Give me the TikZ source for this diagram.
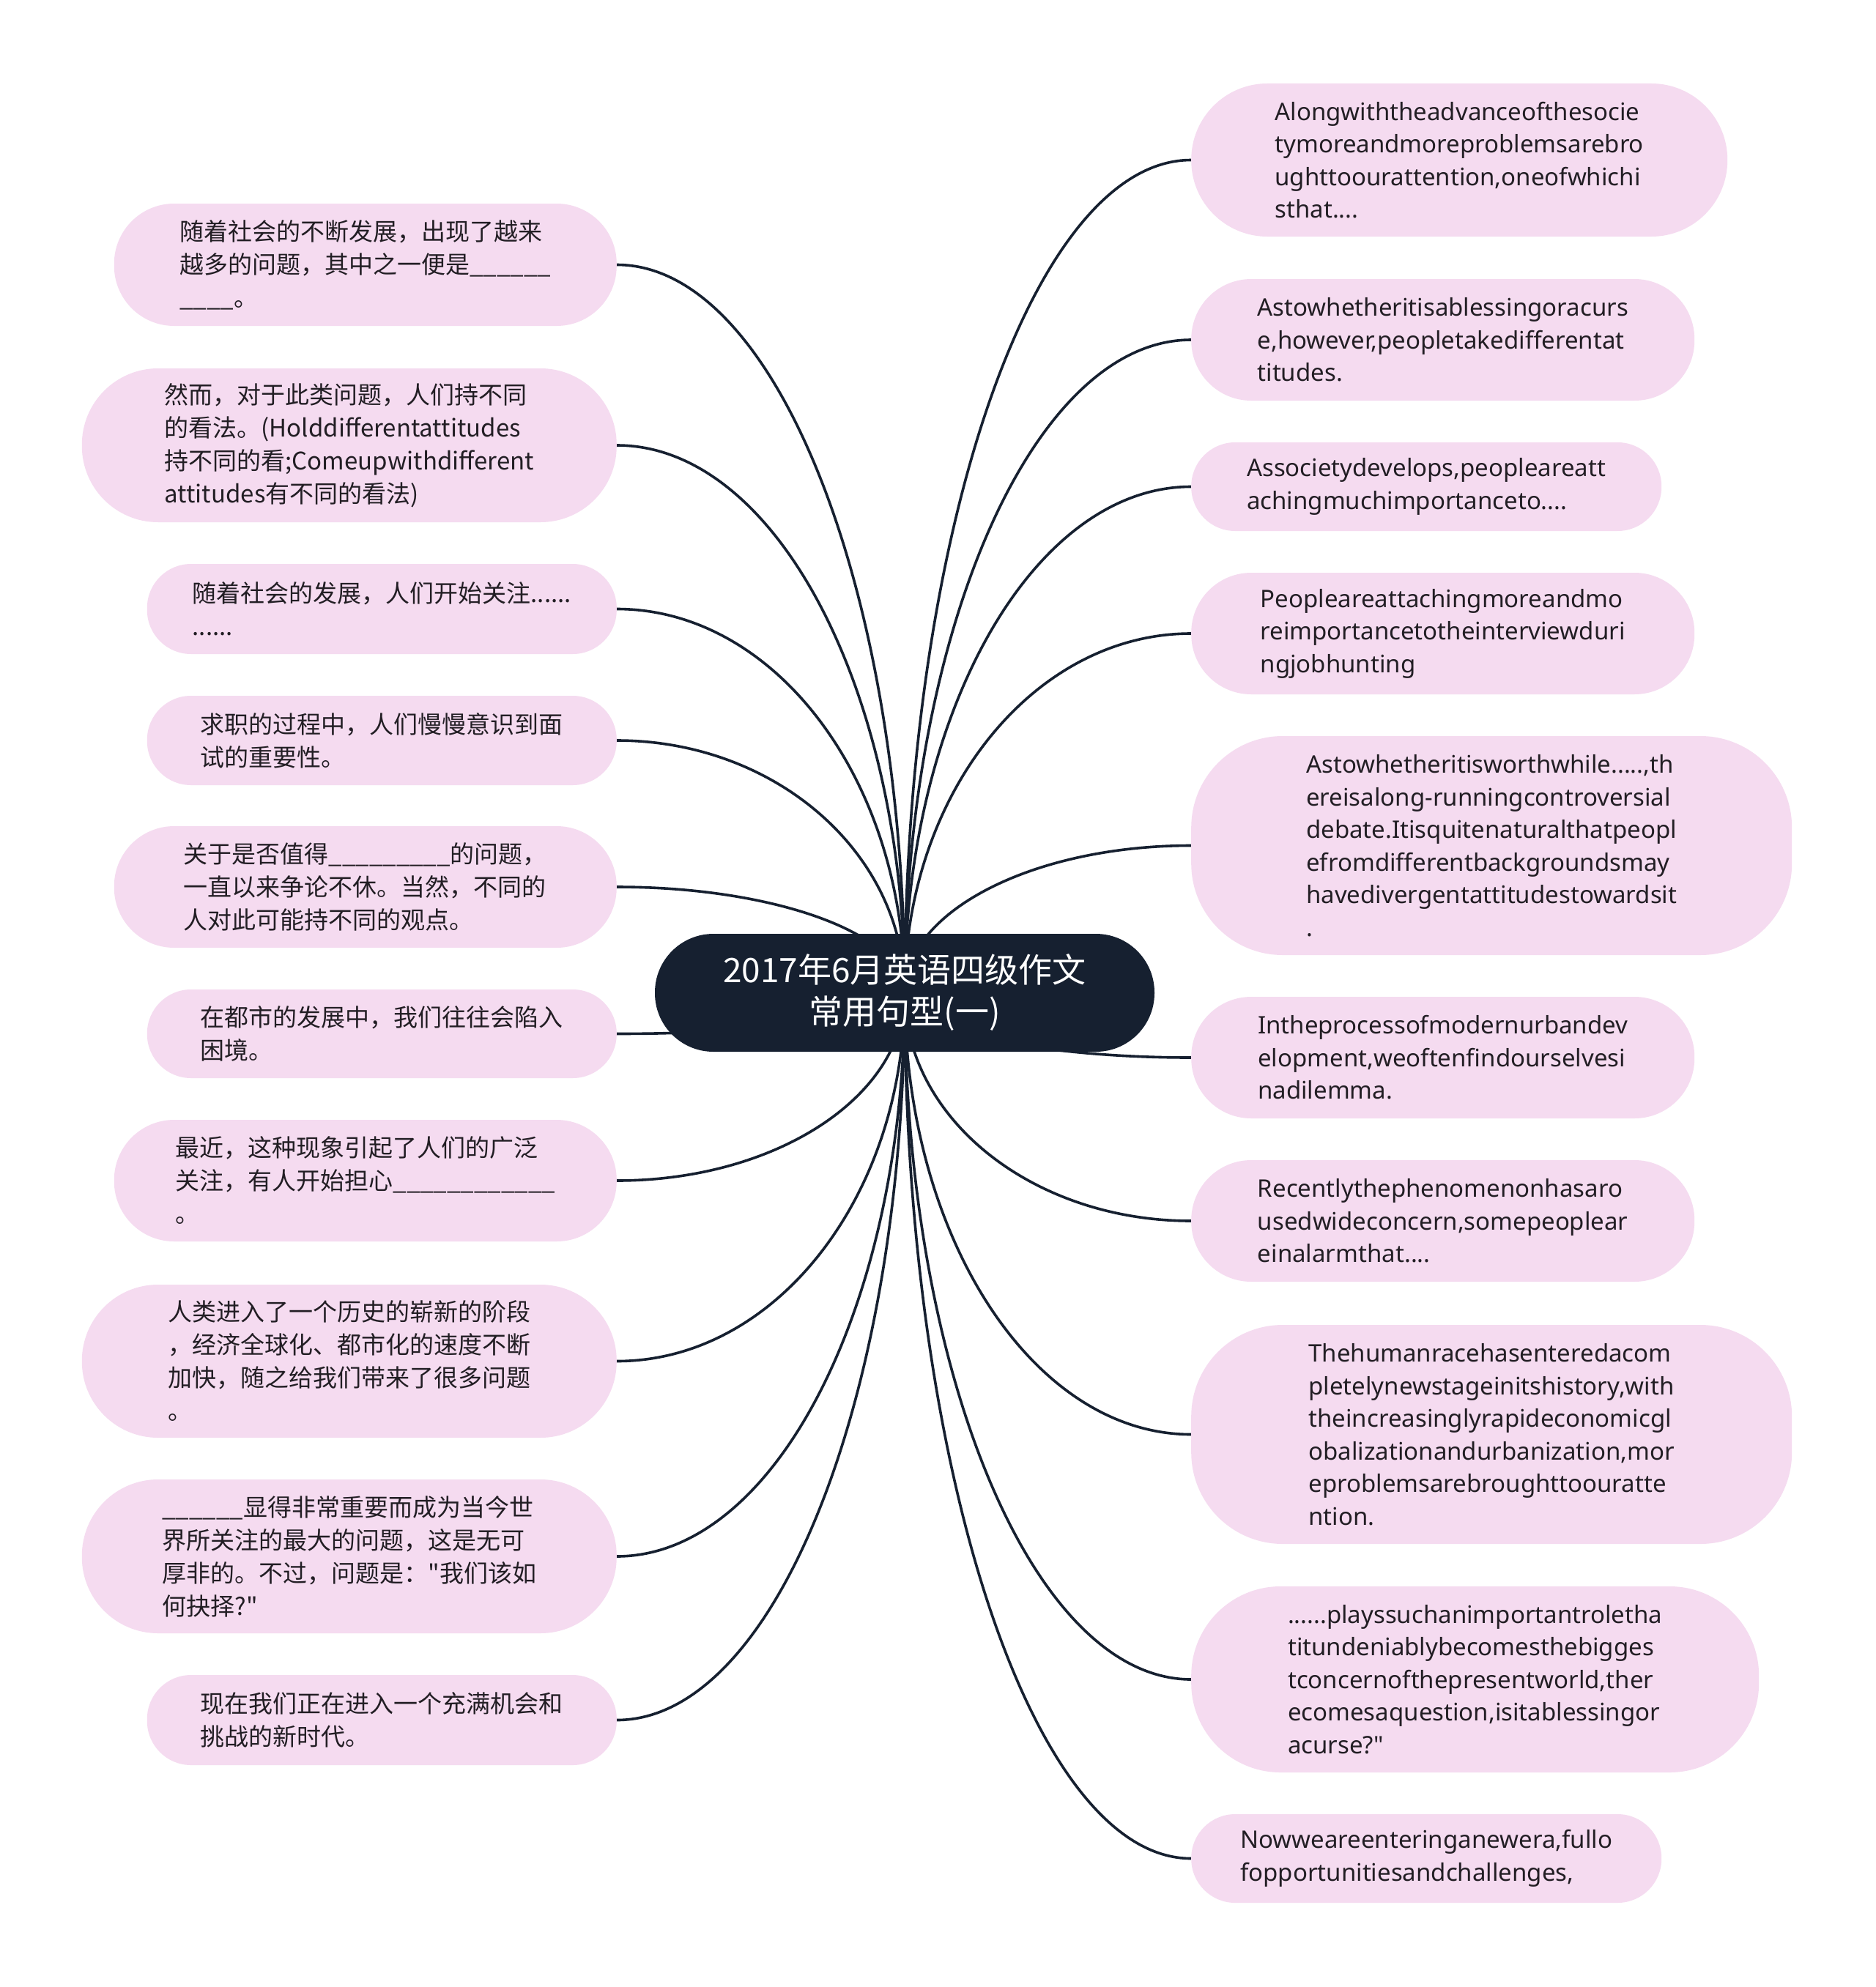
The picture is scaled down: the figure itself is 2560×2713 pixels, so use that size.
\documentclass[tikz,border=0pt]{standalone}
\usepackage{fontspec}
\setmainfont{Noto Sans CJK SC}[Ligatures=TeXOff]
\newfontfamily\latinfont{Noto Sans}
\usetikzlibrary{calc,backgrounds}
\definecolor{pinkfill}{RGB}{245,219,240}
\definecolor{navy}{RGB}{22,32,48}
\definecolor{txt}{RGB}{34,30,36}
\tikzset{
 leaf/.style={draw=none, fill=pinkfill, text=txt, align=left, inner sep=0pt, font=\fontsize{33}{45}\selectfont},
 eleaf/.style={leaf, font=\latinfont\fontsize{33}{44.5}\selectfont},
 rootbox/.style={fill=navy, text=white, align=center, inner sep=0pt, minimum width=682pt, minimum height=161pt, rounded corners=80pt, font=\fontsize{46}{57}\selectfont},
 connline/.style={draw=navy, line width=3.6pt},
 lf/.style={anchor=east},
 rt/.style={anchor=west},
}
\newcommand\linkto[1]{\draw[connline] (ctr.center) .. controls ($(ctr.center)!0.552!(ctr.center |- #1)$) and ($(#1)!0.552!(ctr.center |- #1)$) .. (#1);}
\begin{document}
\begin{tikzpicture}[x=1pt,y=-1pt]
\useasboundingbox (0,0) rectangle (2560,2713);
\node[rootbox] (ctr) at (1235,1355.5) {2017年6月英语四级作文\\常用句型(一)};
% left
\node[leaf,lf,minimum width=686pt,minimum height=167pt,rounded corners=82pt] (l1) at (842,361.5) {随着社会的不断发展，出现了越来\\越多的问题，其中之一便是\_\_\_\_\_\_\\\_\_\_\_。};
\node[leaf,lf,minimum width=730pt,minimum height=210pt,rounded corners=104pt] (l2) at (842,608) {然而，对于此类问题，人们持不同\\的看法。(Holddifferentattitudes\\持不同的看;Comeupwithdifferent\\attitudes有不同的看法)};
\node[leaf,lf,minimum width=641pt,minimum height=123pt,rounded corners=60pt] (l3) at (842,831.5) {随着社会的发展，人们开始关注......\\......};
\node[leaf,lf,minimum width=641pt,minimum height=122pt,rounded corners=60pt] (l4) at (842,1011) {求职的过程中，人们慢慢意识到面\\试的重要性。};
\node[leaf,lf,minimum width=686pt,minimum height=166pt,rounded corners=82pt] (l5) at (842,1211) {关于是否值得\_\_\_\_\_\_\_\_\_的问题，\\一直以来争论不休。当然，不同的\\人对此可能持不同的观点。};
\node[leaf,lf,minimum width=641pt,minimum height=121pt,rounded corners=60pt] (l6) at (842,1411.5) {在都市的发展中，我们往往会陷入\\困境。};
\node[leaf,lf,minimum width=686pt,minimum height=166pt,rounded corners=82pt] (l7) at (842,1612) {最近，这种现象引起了人们的广泛\\关注，有人开始担心\_\_\_\_\_\_\_\_\_\_\_\_\\。};
\node[leaf,lf,minimum width=730pt,minimum height=209pt,rounded corners=104pt] (l8) at (842,1858.5) {人类进入了一个历史的崭新的阶段\\，经济全球化、都市化的速度不断\\加快，随之给我们带来了很多问题\\。};
\node[leaf,lf,minimum width=730pt,minimum height=210pt,rounded corners=104pt] (l9) at (842,2125) {\_\_\_\_\_\_显得非常重要而成为当今世\\界所关注的最大的问题，这是无可\\厚非的。不过，问题是："我们该如\\何抉择?"};
\node[leaf,lf,minimum width=641pt,minimum height=123pt,rounded corners=60pt] (l10) at (842,2348.5) {现在我们正在进入一个充满机会和\\挑战的新时代。};
% right
\node[eleaf,rt,minimum width=732pt,minimum height=209pt,rounded corners=104pt] (r1) at (1626,218.5) {Alongwiththeadvanceofthesocie\\tymoreandmoreproblemsarebro\\ughttoourattention,oneofwhichi\\sthat....};
\node[eleaf,rt,minimum width=687pt,minimum height=166pt,rounded corners=82pt] (r2) at (1626,464) {Astowhetheritisablessingoracurs\\e,however,peopletakedifferentat\\titudes.};
\node[eleaf,rt,minimum width=642pt,minimum height=121pt,rounded corners=60pt] (r3) at (1626,664.5) {Associetydevelops,peopleareatt\\achingmuchimportanceto....};
\node[eleaf,rt,minimum width=687pt,minimum height=166pt,rounded corners=82pt] (r4) at (1626,865) {Peopleareattachingmoreandmo\\reimportancetotheinterviewduri\\ngjobhunting};
\node[eleaf,rt,minimum width=820pt,minimum height=299pt,rounded corners=125pt] (r5) at (1626,1154.5) {Astowhetheritisworthwhile.....,th\\ereisalong-runningcontroversial\\debate.Itisquitenaturalthatpeopl\\efromdifferentbackgroundsmay\\havedivergentattitudestowardsit\\.};
\node[eleaf,rt,minimum width=687pt,minimum height=166pt,rounded corners=82pt] (r6) at (1626,1444) {Intheprocessofmodernurbandev\\elopment,weoftenfindourselvesi\\nadilemma.};
\node[eleaf,rt,minimum width=687pt,minimum height=166pt,rounded corners=82pt] (r7) at (1626,1667) {Recentlythephenomenonhasaro\\usedwideconcern,somepeoplear\\einalarmthat....};
\node[eleaf,rt,minimum width=820pt,minimum height=299pt,rounded corners=125pt] (r8) at (1626,1958.5) {Thehumanracehasenteredacom\\pletelynewstageinitshistory,with\\theincreasinglyrapideconomicgl\\obalizationandurbanization,mor\\eproblemsarebroughttoouratte\\ntion.};
\node[eleaf,rt,minimum width=775pt,minimum height=254pt,rounded corners=122pt] (r9) at (1626,2293) {......playssuchanimportantroletha\\titundeniablybecomesthebigges\\tconcernofthepresentworld,ther\\ecomesaquestion,isitablessingor\\acurse?"};
\node[eleaf,rt,minimum width=642pt,minimum height=121pt,rounded corners=60pt] (r10) at (1626,2537.5) {Nowweareenteringanewera,fullo\\fopportunitiesandchallenges,};
\begin{scope}[on background layer]
\fill[white] (0,0) rectangle (2560,2713);
\foreach \n in {l1,l2,l3,l4,l5,l6,l7,l8,l9,l10}{\linkto{\n.east}}
\foreach \n in {r1,r2,r3,r4,r5,r6,r7,r8,r9,r10}{\linkto{\n.west}}
\end{scope}
\end{tikzpicture}
\end{document}
